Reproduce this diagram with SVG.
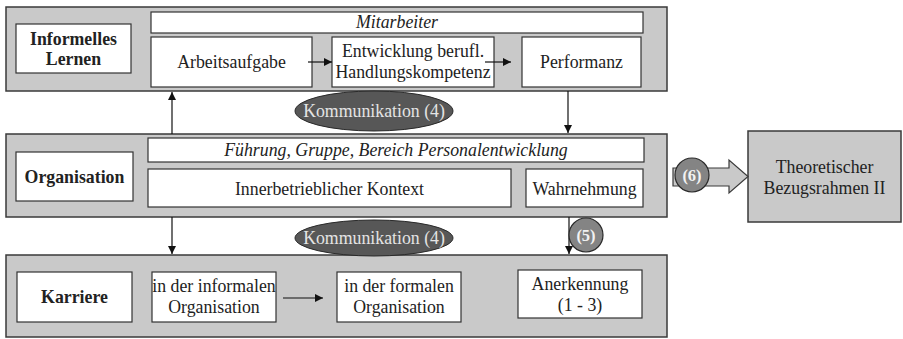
<svg xmlns="http://www.w3.org/2000/svg" width="903" height="339" viewBox="0 0 903 339">
<defs>
<marker id="ah" viewBox="0 0 10 10" refX="10" refY="5" markerWidth="9" markerHeight="8" markerUnits="userSpaceOnUse" orient="auto">
<path d="M0,0 L10,5 L0,10 z" fill="#111"/>
</marker>
<style>
.panel{fill:#c9c9c9;stroke:#3a3a3a;stroke-width:1.5}
.box{fill:#fff;stroke:#333;stroke-width:1.2}
.t{font-family:"Liberation Serif","Times New Roman",serif;font-size:17.8px;fill:#222;text-anchor:middle}
.b{font-weight:bold}
.i{font-style:italic}
.ell{fill:#575757;stroke:#2a2a2a;stroke-width:1}
.et{font-family:"Liberation Serif","Times New Roman",serif;font-size:17.8px;fill:#e4e4e4;text-anchor:middle}
.circ{fill:#848484;stroke:#2a2a2a;stroke-width:1.2}
.ct{font-family:"Liberation Serif","Times New Roman",serif;font-size:16.5px;font-weight:bold;fill:#f2f2f2;text-anchor:middle}
.ln{stroke:#111;stroke-width:1.2;fill:none;marker-end:url(#ah)}
</style>
</defs>

<g id="panel-informelles-lernen">
<rect class="panel" x="6" y="7" width="661" height="84"/>
<rect class="box" x="16" y="24" width="115" height="49"/>
<text class="t b" x="73.5" y="45">Informelles</text>
<text class="t b" x="73.5" y="65">Lernen</text>
</g>
<g id="mitarbeiter">
<rect class="box" x="151" y="12" width="492" height="21"/>
<text class="t i" x="397" y="28">Mitarbeiter</text>
</g>
<g id="arbeitsaufgabe">
<rect class="box" x="151" y="37" width="161" height="50"/>
<text class="t" x="231.5" y="68">Arbeitsaufgabe</text>
</g>
<g id="entwicklung">
<rect class="box" x="332" y="37" width="162" height="50"/>
<text class="t" x="413" y="57">Entwicklung berufl.</text>
<text class="t" x="413" y="78">Handlungskompetenz</text>
</g>
<g id="performanz">
<rect class="box" x="522" y="37" width="119" height="50"/>
<text class="t" x="581.5" y="68">Performanz</text>
</g>

<g id="panel-organisation">
<rect class="panel" x="6" y="134" width="661" height="83"/>
<rect class="box" x="16" y="152" width="117" height="49"/>
<text class="t b" x="74.5" y="183">Organisation</text>
</g>
<g id="fuehrung">
<rect class="box" x="148" y="138" width="496" height="24"/>
<text class="t i" x="396" y="156">Führung, Gruppe, Bereich Personalentwicklung</text>
</g>
<g id="innerbetrieblicher-kontext">
<rect class="box" x="148" y="169" width="363" height="38"/>
<text class="t" x="329.5" y="195">Innerbetrieblicher Kontext</text>
</g>
<g id="wahrnehmung">
<rect class="box" x="526" y="169" width="117" height="38"/>
<text class="t" x="584.5" y="195">Wahrnehmung</text>
</g>

<g id="panel-karriere">
<rect class="panel" x="6" y="255" width="661" height="82"/>
<rect class="box" x="17" y="272" width="115" height="50"/>
<text class="t b" x="74.5" y="303">Karriere</text>
</g>
<g id="informale-organisation">
<rect class="box" x="152" y="272" width="124" height="50"/>
<text class="t" x="214" y="292">in der informalen</text>
<text class="t" x="214" y="313">Organisation</text>
</g>
<g id="formale-organisation">
<rect class="box" x="337" y="272" width="124" height="50"/>
<text class="t" x="399" y="292">in der formalen</text>
<text class="t" x="399" y="313">Organisation</text>
</g>
<g id="anerkennung">
<rect class="box" x="518" y="270" width="124" height="48"/>
<text class="t" x="580" y="290">Anerkennung</text>
<text class="t" x="580" y="311">(1 - 3)</text>
</g>

<g id="theoretischer-bezugsrahmen">
<rect x="748" y="131" width="153" height="91" fill="#c9c9c9" stroke="#3a3a3a" stroke-width="1.5"/>
<text class="t" x="824.5" y="173">Theoretischer</text>
<text class="t" x="824.5" y="194">Bezugsrahmen II</text>
</g>

<g id="connectors">
<line class="ln" x1="308" y1="62" x2="332" y2="62"/>
<line class="ln" x1="485" y1="62" x2="511" y2="62"/>
<line class="ln" x1="172" y1="134" x2="172" y2="92"/>
<line class="ln" x1="568" y1="91" x2="568" y2="133"/>
<line class="ln" x1="172" y1="217" x2="172" y2="254"/>
<line class="ln" x1="569" y1="217" x2="569" y2="254"/>
<line class="ln" x1="283" y1="298" x2="323" y2="298"/>
<path d="M673,168 L729,168 L729,160 L748,176.5 L729,193 L729,186 L673,186 z" fill="#c9c9c9" stroke="#3a3a3a" stroke-width="1.2"/>
</g>

<g id="kommunikation-1">
<ellipse class="ell" cx="374" cy="111" rx="79" ry="20"/>
<text class="et" x="374" y="117">Kommunikation (4)</text>
</g>
<g id="kommunikation-2">
<ellipse class="ell" cx="374" cy="238" rx="79" ry="18"/>
<text class="et" x="374" y="244">Kommunikation (4)</text>
</g>
<g id="marker-5">
<circle class="circ" cx="586" cy="235" r="17"/>
<text class="ct" x="586" y="241">(5)</text>
</g>
<g id="marker-6">
<circle class="circ" cx="692" cy="175" r="17"/>
<text class="ct" x="692" y="181">(6)</text>
</g>
</svg>
